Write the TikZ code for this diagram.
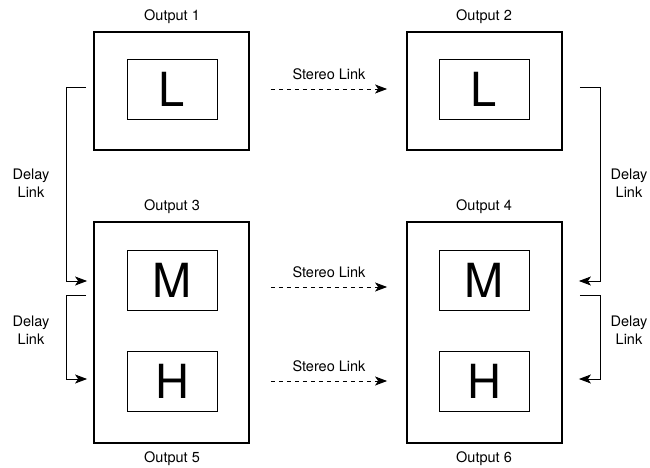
\documentclass[tikz,border=0pt]{standalone}
\usepackage{fontspec}
\setmainfont{TeX Gyre Heros}
\usetikzlibrary{arrows.meta,calc}
\begin{document}
\begin{tikzpicture}[x=1pt,y=-1pt,
  outerbox/.style={draw,line width=1.8pt,minimum width=155pt,inner sep=0pt},
  innerbox/.style={draw,line width=0.9pt,minimum width=90pt,minimum height=60pt,inner sep=0pt,font=\fontsize{47}{47}\selectfont},
  lbl/.style={font=\fontsize{14.5}{18.5}\selectfont,inner sep=0pt,align=center},
  delay/.style={line width=0.9pt,-{Stealth[length=12pt,width=9pt,inset=3pt]}},
  stereo/.style={line width=0.9pt,dash pattern=on 4.5pt off 3.5pt,-{Stealth[length=12pt,width=9pt,inset=3pt]}}
]
\useasboundingbox (0,0) rectangle (650,468);
% outer boxes
\node[outerbox,minimum height=118pt] (o1) at (171.5,91) {};
\node[outerbox,minimum height=118pt] (o2) at (484.5,91) {};
\node[outerbox,minimum height=221pt] (o3) at (171.5,332.5) {};
\node[outerbox,minimum height=221pt] (o4) at (484.5,332.5) {};
% inner boxes
\node[innerbox] (l1) at (172,89) {L};
\node[innerbox] (l2) at (484,89) {L};
\node[innerbox] (m1) at (172,280) {M};
\node[innerbox] (m2) at (484,280) {M};
\node[innerbox] (h1) at (172,381) {H};
\node[innerbox] (h2) at (484,381) {H};
% output labels
\node[lbl] (t1) at (172,17) {Output 1};
\node[lbl] (t2) at (484,17) {Output 2};
\node[lbl] (t3) at (172,207) {Output 3};
\node[lbl] (t4) at (484,207) {Output 4};
\node[lbl] (t5) at (172,459) {Output 5};
\node[lbl] (t6) at (484,459) {Output 6};
% stereo links
\draw[stereo] ($(o1.east)+(21,-2)$) -- node[lbl,above=9pt] (s1) {Stereo Link} ($(o2.west)+(-19,-2)$);
\draw[stereo] ($(o3.east |- m1)+(21,7)$) -- node[lbl,above=9pt] (s2) {Stereo Link} ($(o4.west |- m1)+(-19,7)$);
\draw[stereo] ($(o3.east |- h1)+(21,0)$) -- node[lbl,above=9pt] (s3) {Stereo Link} ($(o4.west |- h1)+(-19,0)$);
% delay links left
\draw[delay] ($(o1.west)+(-7,-4)$) -- ++(-20,0) |- ($(o3.west |- m1)+(-6,1)$);
\draw[delay] ($(o3.west |- m1)+(-7,15)$) -- ++(-20,0) |- ($(o3.west |- h1)+(-6,-2)$);
% delay links right
\draw[delay] ($(o2.east)+(17,-4)$) -- ++(21,0) |- ($(o4.east |- m1)+(16,1)$);
\draw[delay] ($(o4.east |- m1)+(17,15)$) -- ++(21,0) |- ($(o4.east |- h1)+(16,-2)$);
% delay labels
\node[lbl] (d1) at (31,183) {Delay\\Link};
\node[lbl] (d2) at (31,330) {Delay\\Link};
\node[lbl] (d3) at (629,183) {Delay\\Link};
\node[lbl] (d4) at (629,330) {Delay\\Link};
\end{tikzpicture}
\end{document}
